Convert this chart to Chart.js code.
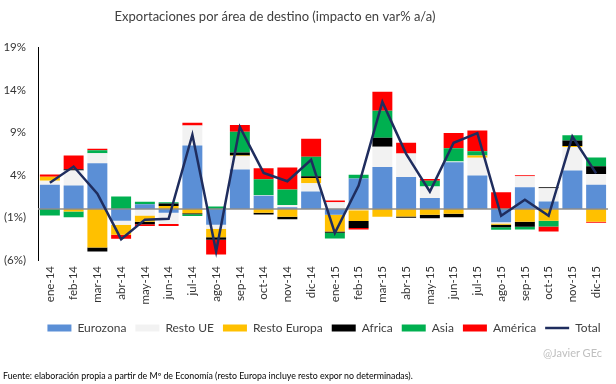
<!DOCTYPE html>
<html>
<head>
<meta charset="utf-8">
<script src="https://cdn.jsdelivr.net/npm/chart.js@4.4.1/dist/chart.umd.min.js"></script>
<style>
  html, body { margin: 0; padding: 0; background: #fff; }
  #wrap { position: relative; width: 616px; height: 384px; }
  #firma { position: absolute; right: 14px; top: 346px; font: 11px Lato, sans-serif; color: #bfbfbf; }
  #fuente { position: absolute; left: 3px; top: 370px; font: 8.8px Lato, sans-serif; color: #000; white-space: nowrap; }
</style>
</head>
<body>
<div id="wrap">
  <canvas id="chart" width="616" height="384"></canvas>
  <div id="firma">@Javier GEc</div>
  <div id="fuente">Fuente: elaboración propia a partir de Mº de Economía (resto Europa incluye resto expor no determinadas).</div>
</div>
<script>
const meses = ['ene-14','feb-14','mar-14','abr-14','may-14','jun-14','jul-14','ago-14','sep-14','oct-14','nov-14','dic-14',
               'ene-15','feb-15','mar-15','abr-15','may-15','jun-15','jul-15','ago-15','sep-15','oct-15','nov-15','dic-15'];

const eurozona    = [2.87, 2.76, 5.39, -1.38, 0.55, -0.45, 7.48, -1.85, 4.65, 1.57, 0.2, 2.05, -0.67, 3.6, 4.96, 3.78, 1.3, 5.5, 3.94, -1.57, 2.56, 0.9, 4.53, 2.87];
const restoUE     = [0.47, 1.77, 1.18, -0.47, -0.75, -1.3, 2.36, -0.47, 1.57, 0.05, 0.28, 0.98, 0.79, -0.15, 2.36, 2.76, 1.34, 0.08, 2.09, -0.12, 1.3, 1.54, 2.76, 1.26];
const restoEuropa = [0.47, -0.28, -4.53, -1.18, -0.75, 0.35, -0.5, -1.0, 0.08, -0.43, -0.9, 0.63, -1.97, -1.26, -0.9, -0.87, -0.67, -0.55, 0.28, -0.16, -1.5, -1.38, 0.12, -1.5];
const africa      = [0, 0.16, -0.47, 0, -0.3, 0.3, -0.12, -0.3, 0.35, -0.2, -0.3, 0.2, -0.16, -0.83, 1.06, -0.16, -0.43, -0.43, 0, -0.3, -0.6, 0.12, 0.67, 0.9];
const asia        = [-0.75, -0.7, 0.35, 1.46, 0.32, 0.15, -0.2, 0.3, 2.44, 1.89, 1.81, 2.28, -0.67, 0.43, 3.19, 0, 0.7, 1.57, 0.5, -0.3, -0.3, -0.67, 0.6, 1.02];
const america     = [0.24, 1.6, 0.16, -0.47, -0.2, -0.25, 0.3, -1.73, 0.79, 1.3, 2.6, 2.13, 0.2, -0.16, 2.24, 1.26, 0.2, 1.81, 2.44, 1.97, 0.12, -0.6, 0, -0.12];
const total       = [3.1, 5.0, 1.8, -3.55, -1.25, -1.15, 8.75, -5.0, 9.65, 4.25, 3.27, 5.79, -2.83, 2.76, 12.6, 6.5, 2.05, 7.8, 8.94, -0.8, 1.1, -0.8, 8.54, 4.2];

const fuente = 'Lato, sans-serif';

function barra(label, data, color) {
  return { type: 'bar', label: label, data: data, backgroundColor: color, borderWidth: 0,
           barPercentage: 0.84, categoryPercentage: 1.0, order: 1, stack: 'areas' };
}

// linea gris del cero, por encima de las barras y debajo del total
const lineaCero = {
  id: 'lineaCero',
  beforeDatasetDraw(chart, args) {
    if (args.index !== 6) return;
    const y = chart.scales.y.getPixelForValue(0);
    const ctx = chart.ctx;
    ctx.save();
    ctx.strokeStyle = '#8c8c8c';
    ctx.lineWidth = 1.5;
    ctx.beginPath();
    ctx.moveTo(chart.chartArea.left, y);
    ctx.lineTo(chart.chartArea.right, y);
    ctx.stroke();
    ctx.restore();
  }
};

// titulo y leyenda no van centrados en el original
const mover = {
  id: 'mover',
  afterLayout(chart) {
    chart.titleBlock.left -= 31;
    chart.titleBlock.right -= 31;
    chart.legend.left += 18;
    chart.legend.right += 18;
  }
};

new Chart(document.getElementById('chart'), {
  data: {
    labels: meses,
    datasets: [
      barra('Eurozona', eurozona, '#5b8fd6'),
      barra('Resto UE', restoUE, '#f2f2f2'),
      barra('Resto Europa', restoEuropa, '#ffc000'),
      barra('Africa', africa, '#000000'),
      barra('Asia', asia, '#00b050'),
      barra('América', america, '#ff0000'),
      { type: 'line', label: 'Total', data: total, borderColor: '#1f2d5e', backgroundColor: '#1f2d5e',
        borderWidth: 2.5, pointRadius: 0, tension: 0, order: 0, stack: 'total' }
    ]
  },
  options: {
    responsive: false,
    animation: false,
    devicePixelRatio: 1,
    layout: { padding: { left: 0, right: 4, top: 0, bottom: 40 } },
    plugins: {
      tooltip: { enabled: false },
      title: {
        display: true,
        text: 'Exportaciones por área de destino (impacto en var% a/a)',
        font: { family: fuente, size: 13, weight: 'normal' },
        color: '#404040',
        padding: { top: 9, bottom: 23 }
      },
      legend: {
        position: 'bottom',
        labels: {
          usePointStyle: true,
          pointStyleWidth: 24,
          boxHeight: 7,
          padding: 9,
          font: { family: fuente, size: 12 },
          color: '#404040',
          sort: (a, b) => a.datasetIndex - b.datasetIndex,
          generateLabels(chart) {
            const items = Chart.defaults.plugins.legend.labels.generateLabels(chart);
            items.forEach(it => {
              const ds = chart.data.datasets[it.datasetIndex];
              if (ds.type === 'line') {
                it.pointStyle = 'line';
                it.strokeStyle = ds.borderColor;
                it.lineWidth = 2.5;
              } else {
                it.pointStyle = 'rect';
                it.lineWidth = 0;
              }
            });
            return items;
          }
        }
      }
    },
    scales: {
      x: {
        stacked: true,
        grid: { display: false, drawTicks: false },
        border: { display: false },
        ticks: { minRotation: 90, maxRotation: 90, autoSkip: false, padding: 6,
                 font: { family: fuente, size: 11.5 }, color: '#333' },
        afterFit(s) { s.height = 53; }
      },
      y: {
        stacked: true,
        min: -6,
        max: 19,
        grid: { display: false, drawTicks: false },
        border: { display: true, color: '#000', width: 1 },
        ticks: {
          stepSize: 5, padding: 12,
          font: { family: fuente, size: 11.5 }, color: '#333',
          callback: v => v < 0 ? '(' + Math.abs(v) + '%)' : v + '%'
        },
        afterFit(s) { s.width = 38; }
      }
    }
  },
  plugins: [lineaCero, mover]
});
</script>
</body>
</html>
